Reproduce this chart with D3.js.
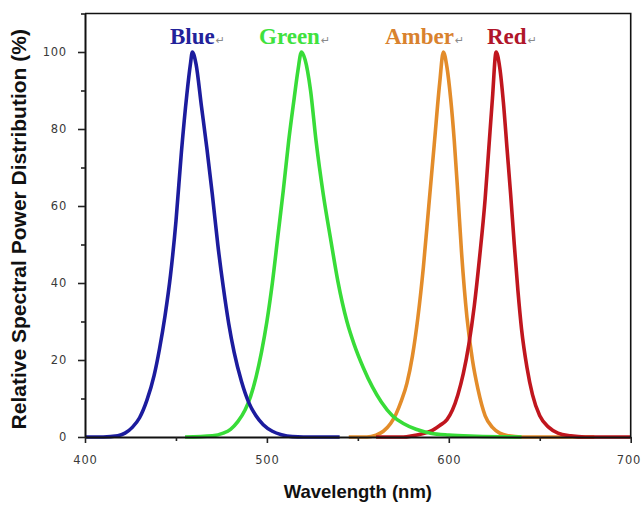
<!DOCTYPE html>
<html>
<head>
<meta charset="utf-8">
<script src="https://cdn.jsdelivr.net/npm/d3@7"></script>
<style>
  html, body { margin: 0; padding: 0; background: #fff; }
  svg { display: block; }
</style>
</head>
<body>
<div id="chart"></div>
<script>
// Relative spectral power of four LED colours, [wavelength nm, percent]
const blueData = [
  [400, 0], [410, 0], [418, 0.3], [422, 1], [426, 2.5], [430, 5], [434, 9.5],
  [438, 16], [441, 23], [444, 31.5], [447, 42], [450, 56], [453, 74], [456, 89],
  [458, 97], [459, 100], [461, 97], [464, 86], [467, 75], [470, 63], [473, 50],
  [476, 39], [479, 29.5], [482, 22], [486, 14.5], [490, 9], [494, 5.5], [498, 3.2],
  [503, 1.5], [508, 0.6], [514, 0.1], [520, 0], [540, 0]
];
const greenData = [
  [455, 0], [470, 0.3], [476, 1], [480, 2], [484, 4], [488, 7], [491, 10.5],
  [494, 15.5], [497, 22], [500, 30], [503, 40], [506, 52], [509, 64], [512, 77],
  [515, 88], [517, 95], [519, 100], [521, 98], [524, 90], [527, 77], [531, 63],
  [535, 51.5], [539, 40.5], [544, 30], [548, 24], [553, 18], [558, 13], [563, 9],
  [569, 5.5], [575, 3.5], [582, 2], [590, 1], [600, 0.5], [615, 0.2], [640, 0]
];
const amberData = [
  [545, 0], [555, 0], [560, 0.5], [564, 1.5], [568, 3.5], [571, 6], [574, 9.5],
  [577, 14], [580, 21], [583, 31], [586, 44], [589, 60], [592, 76], [595, 92],
  [597, 100], [599, 96], [601, 88], [603, 77], [605, 63], [607, 48], [610, 31],
  [613, 20], [616, 12.5], [620, 5.5], [624, 2.5], [628, 1], [633, 0.3], [640, 0], [680, 0]
];
const redData = [
  [560, 0], [575, 0], [580, 0.3], [585, 0.8], [590, 1.5], [595, 3], [599, 4.5],
  [602, 7], [605, 11], [608, 16.5], [611, 24], [614, 34], [617, 47], [620, 62],
  [622, 75], [624, 88], [626, 100], [628, 96], [630, 87], [632, 75], [634, 63],
  [636, 50], [638, 38], [640, 28], [643, 18], [646, 11], [650, 5.5], [655, 2.5],
  [660, 1], [667, 0.3], [675, 0], [700, 0]
];

const seriesNames = ["Blue", "Green", "Amber", "Red"];
const xMajorTicks = [400, 500, 600, 700];
const xMinorTicks = [450, 550, 650];
const yMajorTicks = [0, 20, 40, 60, 80, 100];
const yMinorTicks = [10, 30, 50, 70, 90, 110];

const W = 642, H = 506;
const colors = {
  Blue: "#1c1c9e",
  Green: "#38dc38",
  Amber: "#e38c2a",
  Red: "#c0161e"
};
const labelColors = {
  Blue: "#22229a",
  Green: "#3ee23e",
  Amber: "#d9822e",
  Red: "#b0162a"
};
const dataBySeries = { Blue: blueData, Green: greenData, Amber: amberData, Red: redData };

const svg = d3.select("#chart").append("svg")
  .attr("width", W).attr("height", H);

const x = d3.scaleLinear().domain([400, 700]).range([85, 630.7]);
const y = d3.scaleLinear().domain([0, 110]).range([437, 13.5]);

// curves (amber first so the others sit on top where they cross)
const line = d3.line()
  .x(d => x(d[0]))
  .y(d => y(d[1]))
  .curve(d3.curveMonotoneX);

["Amber", "Red", "Green", "Blue"].forEach(name => {
  svg.append("path")
    .datum(dataBySeries[name])
    .attr("fill", "none")
    .attr("stroke", colors[name])
    .attr("stroke-width", 3.6)
    .attr("stroke-linejoin", "round")
    .attr("d", line);
});

// frame
svg.append("path")
  .attr("d", `M${x(400)},${y(110)}H${x(700)}V${y(0)}`)
  .attr("fill", "none").attr("stroke", "#111").attr("stroke-width", 1.6);

const tickFont = "'DejaVu Sans', sans-serif";

// y axis
svg.append("g").attr("transform", `translate(${x(400)},0)`)
  .call(d3.axisLeft(y).tickValues(yMajorTicks).tickSize(7).tickPadding(11).tickSizeOuter(0));
svg.append("g").attr("transform", `translate(${x(400)},0)`)
  .call(d3.axisLeft(y).tickValues(yMinorTicks).tickSize(4).tickFormat("").tickSizeOuter(0))
  .select(".domain").remove();

// x axis
const xAxisG = svg.append("g").attr("transform", `translate(0,${y(0)})`)
  .call(d3.axisBottom(x).tickValues(xMajorTicks).tickSize(6).tickPadding(13).tickSizeOuter(0));
svg.append("g").attr("transform", `translate(0,${y(0)})`)
  .call(d3.axisBottom(x).tickValues(xMinorTicks).tickSize(4).tickFormat("").tickSizeOuter(0))
  .select(".domain").remove();

svg.selectAll(".domain").attr("stroke", "#111").attr("stroke-width", 2);
svg.selectAll(".tick line").attr("stroke", "#222").attr("stroke-width", 1.6);
svg.selectAll(".tick text")
  .attr("font-family", tickFont)
  .attr("font-size", 11.5)
  .attr("letter-spacing", 0.8)
  .attr("fill", "#3a3a3a");
// keep the last wavelength label inside the right edge
xAxisG.selectAll(".tick text")
  .filter(d => d === d3.max(xMajorTicks))
  .attr("text-anchor", "end")
  .attr("dx", 10);

// axis titles
svg.append("text")
  .attr("x", (x(400) + x(700)) / 2)
  .attr("y", 498)
  .attr("text-anchor", "middle")
  .attr("font-family", "'Liberation Sans', Arial, sans-serif")
  .attr("font-weight", "bold")
  .attr("font-size", 18.5)
  .attr("fill", "#111")
  .text("Wavelength (nm)");

svg.append("text")
  .attr("transform", `translate(26,${(y(0) + y(110)) / 2 + 4}) rotate(-90)`)
  .attr("text-anchor", "middle")
  .attr("font-family", "'Liberation Sans', Arial, sans-serif")
  .attr("font-weight", "bold")
  .attr("font-size", 21)
  .attr("fill", "#111")
  .text("Relative Spectral Power Distribution (%)");

// series names above the peaks, each followed by a return mark
const labelLeft = { Blue: 170, Green: 259, Amber: 385, Red: 487 };
seriesNames.forEach(name => {
  const t = svg.append("text")
    .attr("x", labelLeft[name])
    .attr("y", 43.5)
    .attr("font-family", "'Liberation Serif', 'Times New Roman', serif")
    .attr("font-weight", "bold")
    .attr("font-size", 23)
    .attr("fill", labelColors[name]);
  t.append("tspan").text(name);
  t.append("tspan")
    .attr("font-family", "'DejaVu Sans', sans-serif")
    .attr("font-weight", "normal")
    .attr("font-size", 11)
    .attr("fill", "#8a8a8a")
    .attr("dx", 1)
    .text("↵");
});
</script>
</body>
</html>
